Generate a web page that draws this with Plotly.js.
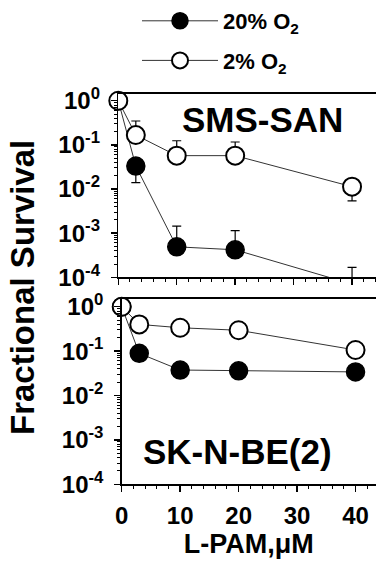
<!DOCTYPE html>
<html>
<head>
<meta charset="utf-8">
<script src="https://cdn.plot.ly/plotly-3.0.1.min.js"></script>
<style>html,body{margin:0;padding:0;background:#fff;}#chart{width:376px;height:562px;}</style>
</head>
<body>
<div id="chart"></div>
<script>
// L-PAM dose (µM)
const dose = [0, 3, 10, 20, 40];

// SMS-SAN
const sanHigh = [1, 0.033, 4.9e-4, 4.2e-4, 7e-5];          // 20% O2
const sanHighErrPlus = [0, 0, 9.5e-4, 7.2e-4, 9.8e-5];
const sanHighErrMinus = [0, 0.019, 0, 0, 0];
const sanLow = [1, 0.167, 0.057, 0.057, 0.0113];           // 2% O2
const sanLowErrPlus = [0, 0.18, 0.067, 0.059, 0];
const sanLowErrMinus = [0, 0, 0, 0, 0.0059];

// SK-N-BE(2)
const beHigh = [1, 0.089, 0.0375, 0.036, 0.034];           // 20% O2
const beLow = [1, 0.40, 0.336, 0.295, 0.106];              // 2% O2

const seriesNames = ['20% O<sub>2</sub>', '2% O<sub>2</sub>'];
const panelLabels = ['SMS-SAN', 'SK-N-BE(2)'];
const yTitle = 'Fractional Survival';
const xTitle = 'L-PAM,\u03bcM';

const yTickVals = [1e-4, 1e-3, 1e-2, 1e-1, 1];
const yTickText = ['10<sup>-4</sup>', '10<sup>-3</sup>', '10<sup>-2</sup>', '10<sup>-1</sup>', '10<sup>0</sup>'];
const xTickVals = [0, 10, 20, 30, 40];
const xTickText = ['0', '10', '20', '30', '40'];

const yMinor = [];
for (let e = -4; e < 1; e++) for (let d = 2; d <= 9; d++) yMinor.push(d * Math.pow(10, e));

const FONT = 'Liberation Sans, Arial, Helvetica, sans-serif';

const filledMarker = {symbol: 'circle', size: 18, color: '#000', line: {color: '#000', width: 1.5}};
const openMarker = {symbol: 'circle', size: 18, color: '#fff', line: {color: '#000', width: 2}};
const lineStyle = {color: '#333', width: 1};
function err(plus, minus) {
  return {type: 'data', symmetric: false, array: plus, arrayminus: minus, color: '#000', thickness: 1.2, width: 4.5};
}

const traces = [
  {x: dose, y: sanHigh, xaxis: 'x', yaxis: 'y', mode: 'lines+markers', name: seriesNames[0],
   marker: filledMarker, line: lineStyle, error_y: err(sanHighErrPlus, sanHighErrMinus),
   cliponaxis: true, legendgroup: 'high', showlegend: true},
  {x: dose, y: sanLow, xaxis: 'x', yaxis: 'y', mode: 'lines+markers', name: seriesNames[1],
   marker: openMarker, line: lineStyle, error_y: err(sanLowErrPlus, sanLowErrMinus),
   cliponaxis: false, legendgroup: 'low', showlegend: true},
  {x: dose, y: beHigh, xaxis: 'x2', yaxis: 'y2', mode: 'lines+markers', name: seriesNames[0],
   marker: filledMarker, line: lineStyle, cliponaxis: false, legendgroup: 'high', showlegend: false},
  {x: dose, y: beLow, xaxis: 'x2', yaxis: 'y2', mode: 'lines+markers', name: seriesNames[1],
   marker: openMarker, line: lineStyle, cliponaxis: false, legendgroup: 'low', showlegend: false}
];

const tickFont = {family: FONT, size: 24, color: '#000', weight: 'bold'};

function xAxis(domain, range, anchor, labels) {
  return {
    domain: domain, range: range, anchor: anchor,
    showline: true, linewidth: 2, linecolor: '#000', mirror: true,
    showgrid: false, zeroline: false,
    ticks: 'outside', ticklen: 6, tickwidth: 1.5, tickcolor: '#000',
    tickmode: 'array', tickvals: xTickVals, ticktext: xTickText,
    showticklabels: labels, tickfont: tickFont, ticklabelstandoff: 3,
    minor: {tickmode: 'linear', tick0: 0, dtick: 2, ticks: 'outside', ticklen: 3, tickwidth: 1, tickcolor: '#000'}
  };
}
function yAxis(domain, range, anchor) {
  return {
    type: 'log', domain: domain, range: range, anchor: anchor,
    showline: true, linewidth: 1.5, linecolor: '#000',
    showgrid: false, zeroline: false,
    ticks: 'outside', ticklen: 6, tickwidth: 1.5, tickcolor: '#000',
    tickmode: 'array', tickvals: yTickVals, ticktext: yTickText,
    tickfont: tickFont, ticklabelstandoff: 6,
    minor: {tickmode: 'array', tickvals: yMinor, ticks: 'outside', ticklen: 3, tickwidth: 1, tickcolor: '#000'}
  };
}

const xa2 = xAxis([0.3237, 1], [0, 43.5], 'y2', true);
xa2.title = {text: xTitle, font: {family: FONT, size: 27, color: '#000', weight: 'bold'}, standoff: 2};

const legendFont = {family: FONT, size: 22, color: '#000', weight: 'bold'};

const layout = {
  width: 376, height: 562,
  margin: {l: 0, r: 0, t: 0, b: 0},
  paper_bgcolor: '#fff', plot_bgcolor: '#fff',
  showlegend: true,
  xaxis: xAxis([0.3146, 1], [0, 44.1], 'y', false),
  yaxis: yAxis([0.5066, 0.8327], [-4, 0.152], 'x'),
  xaxis2: xa2,
  yaxis2: yAxis([0.1383, 0.4674], [-4, 0.167], 'x2'),
  legend: {x: 137 / 376, y: 1, xanchor: 'left', yanchor: 'top', bgcolor: 'rgba(0,0,0,0)',
           font: legendFont, itemwidth: 76, tracegroupgap: 8, traceorder: 'grouped'},
  annotations: [
    {text: panelLabels[0], xref: 'paper', yref: 'paper', x: 262.5 / 376, y: 1 - 119 / 562,
     xanchor: 'center', yanchor: 'middle', showarrow: false,
     font: {family: FONT, size: 35, color: '#000', weight: 'bold'}},
    {text: panelLabels[1], xref: 'paper', yref: 'paper', x: 237 / 376, y: 1 - 451 / 562,
     xanchor: 'center', yanchor: 'middle', showarrow: false,
     font: {family: FONT, size: 35, color: '#000', weight: 'bold'}},
    {text: yTitle, xref: 'paper', yref: 'paper', x: 22 / 376, y: 1 - 288 / 562,
     xanchor: 'center', yanchor: 'middle', showarrow: false, textangle: -90,
     font: {family: FONT, size: 33, color: '#000', weight: 'bold'}}
  ]
};

Plotly.newPlot('chart', traces, layout, {displayModeBar: false, staticPlot: true});
</script>
</body>
</html>
